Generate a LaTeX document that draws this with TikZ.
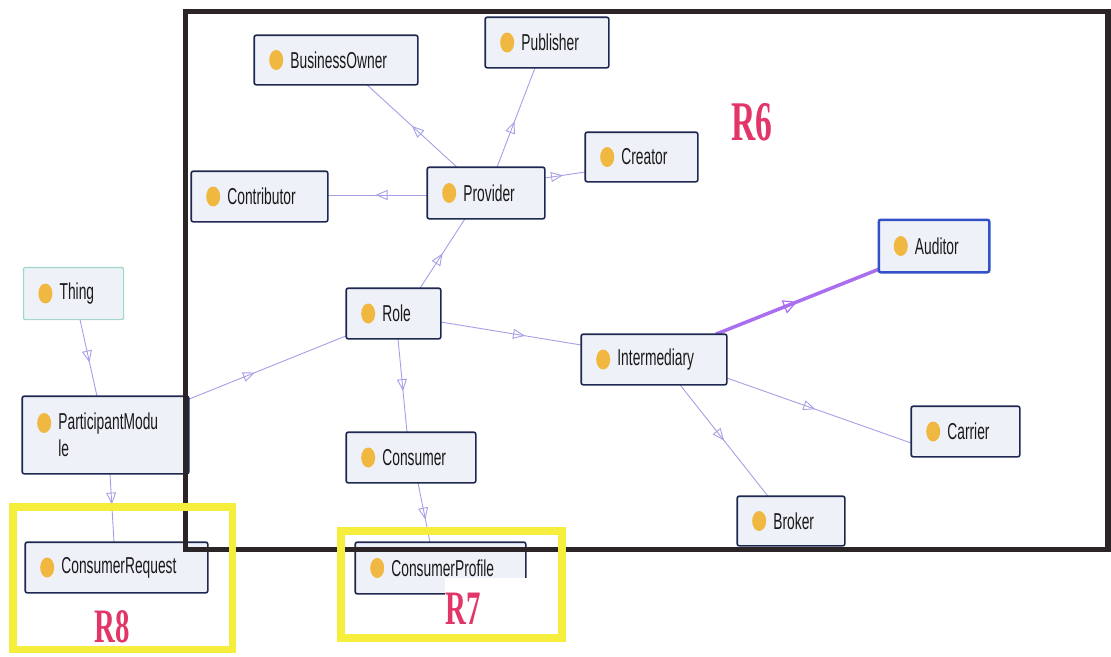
\documentclass[tikz,border=0pt]{standalone}
\usepackage{fontspec}
\usetikzlibrary{arrows.meta,decorations.markings,calc}
\newfontfamily\clsfont{Liberation Sans}[FakeStretch=0.6]
\newfontfamily\regfont{Liberation Serif}[FakeStretch=0.6]

\definecolor{boxfill}{RGB}{238,241,247}
\definecolor{boxline}{RGB}{30,40,80}
\definecolor{edgec}{RGB}{165,160,230}
\definecolor{dotc}{RGB}{240,184,64}
\definecolor{frame}{RGB}{43,37,39}
\definecolor{hilite}{RGB}{245,238,60}
\definecolor{regred}{RGB}{226,54,104}
\definecolor{audline}{RGB}{50,80,200}
\definecolor{audedge}{RGB}{170,110,240}
\definecolor{thingline}{RGB}{160,215,200}

\tikzset{
  cls/.style={draw=boxline, line width=1.6pt, fill=boxfill, rounded corners=2pt,
              inner sep=0pt, minimum width=#1},
  clsh/.style={minimum height=#1},
  lbl/.style={anchor=west, inner sep=0pt, text=black!90,
              font=\clsfont\fontsize{23}{27}\selectfont},
  sub/.style={draw=edgec, line width=0.9pt, postaction=decorate,
              decoration={markings, mark=at position #1 with
                {\arrow{Triangle[open, length=12pt, width=10pt]}}}},
  subbold/.style={draw=audedge, line width=3.5pt, postaction=decorate,
              decoration={markings, mark=at position #1 with
                {\arrow[line width=1.2pt]{Triangle[open, length=14pt, width=14pt]}}}},
  reg/.style={text=regred, inner sep=0pt, font=\regfont\bfseries\fontsize{#1}{#1}\selectfont},
  hlbox/.style={draw=hilite, line width=7.5pt},
}

\begin{document}
\begin{tikzpicture}[x=1pt, y=-1pt]
\useasboundingbox (0,0) rectangle (1111,656);

% class boxes
\node[cls=162, clsh=48] (bo)    at (336,60)     {};
\node[cls=122, clsh=49] (pub)   at (547,42.5)   {};
\node[cls=111, clsh=48] (cre)   at (641.5,157)  {};
\node[cls=135, clsh=49] (con)   at (259.5,196.5){};
\node[cls=116, clsh=50] (prov)  at (486,193)    {};
\node[cls=99,  clsh=51, draw=thingline, line width=1.2pt] (thing) at (73.5,293.5) {};
\node[cls=165, clsh=76] (pm)    at (105.5,435)  {};
\node[cls=181, clsh=49] (cr)    at (116.5,567.5){};
\node[cls=93,  clsh=49] (role)  at (393.5,313.5){};
\node[cls=144, clsh=49] (inter) at (654,359.5)  {};
\node[cls=128, clsh=49] (cons)  at (411,457.5)  {};
\node[cls=169, clsh=50] (cp)    at (440.5,568)  {};
\node[cls=108, clsh=50, draw=audline, line width=2.5pt] (aud) at (934,246) {};
\node[cls=107, clsh=49] (car)   at (965.5,431.5){};
\node[cls=106, clsh=48] (bro)   at (791,521)    {};

% subclass connectors
\draw[sub=0.5]  ([xshift=-29pt]prov.north) -- ([xshift=31pt]bo.south);
\draw[sub=0.46] ([xshift=11pt]prov.north) -- ([xshift=-12pt]pub.south);
\draw[sub=0.45] ([yshift=15pt]prov.east) -- ([yshift=-15pt]cre.west);
\draw[sub=0.52] ([yshift=-2pt]prov.west) -- ([yshift=-2pt]prov.west -| con.east);
\draw[sub=0.5]  ([xshift=26.5pt]role.north) -- ([xshift=-21pt]prov.south);
\draw[sub=0.42] ([yshift=-3pt]pm.north east) -- ([yshift=3pt]role.south west);
\draw[sub=0.56] ([xshift=6.5pt]thing.south) -- ([xshift=-8.5pt]pm.north);
\draw[sub=0.45] ([xshift=4.5pt]pm.south) -- ([xshift=-2.5pt]cr.north);
\draw[sub=0.56] ([xshift=4.5pt]role.south) -- ([xshift=-4pt]cons.north);
\draw[sub=0.62] ([xshift=7pt]cons.south) -- ([xshift=-10.5pt]cp.north);
\draw[sub=0.6]  ([yshift=-8.5pt]role.east) -- ([yshift=14.5pt]inter.west);
\draw[subbold=0.5] ([xshift=-11pt]inter.north east) -- ([yshift=3pt]aud.south west);
\draw[sub=0.48] ([yshift=-18.5pt]inter.east) -- ([yshift=-11.5pt]car.west);
\draw[sub=0.5]  ([xshift=26pt]inter.south) -- ([xshift=-23pt]bro.north);

% redraw boxes over the connector ends
\foreach \n in {bo,pub,cre,con,prov,pm,cr,role,inter,cons,cp,car,bro}{
  \path[fill=boxfill, draw=boxline, line width=1.6pt, rounded corners=2pt]
    (\n.north west) rectangle (\n.south east);
}
\path[fill=boxfill, draw=thingline, line width=1.2pt, rounded corners=2pt]
  (thing.north west) rectangle (thing.south east);
\path[fill=boxfill, draw=audline, line width=2.5pt, rounded corners=2pt]
  (aud.north west) rectangle (aud.south east);

% class markers
\foreach \n in {bo,pub,cre,con,prov,thing,cr,role,inter,cons,cp,aud,car,bro}{
  \fill[dotc] ([xshift=22pt]\n.west) ellipse (7pt and 10pt);
}
\fill[dotc] ([xshift=22pt,yshift=12pt]pm.west) ellipse (7pt and 10pt);

% class names
\node[lbl] (bo-t)    at ([xshift=36pt]bo.west)    {BusinessOwner};
\node[lbl] (pub-t)   at ([xshift=36pt]pub.west)   {Publisher};
\node[lbl] (cre-t)   at ([xshift=36pt]cre.west)   {Creator};
\node[lbl] (con-t)   at ([xshift=36pt]con.west)   {Contributor};
\node[lbl] (prov-t)  at ([xshift=36pt]prov.west)  {Provider};
\node[lbl] (thing-t) at ([xshift=36pt]thing.west) {Thing};
\node[lbl, align=left] (pm-t) at ([xshift=36pt]pm.west) {ParticipantModu\\le};
\node[lbl] (cr-t)    at ([xshift=36pt]cr.west)    {ConsumerRequest};
\node[lbl] (role-t)  at ([xshift=36pt]role.west)  {Role};
\node[lbl] (inter-t) at ([xshift=36pt]inter.west) {Intermediary};
\node[lbl] (cons-t)  at ([xshift=36pt]cons.west)  {Consumer};
\node[lbl] (cp-t)    at ([xshift=36pt]cp.west)    {ConsumerProfile};
\node[lbl] (aud-t)   at ([xshift=36pt]aud.west)   {Auditor};
\node[lbl] (car-t)   at ([xshift=36pt]car.west)   {Carrier};
\node[lbl] (bro-t)   at ([xshift=36pt]bro.west)   {Broker};

% region R6 frame
\draw[frame, line width=5.5pt] (185.5,11.5) rectangle (1108,549.5);

% cleared area under the R7 label
\fill[white] (445,578) rectangle (560,633);

% highlighted regions R7 and R8
\draw[hlbox] (12.75,506.75) rectangle (232.25,649.25);
\draw[hlbox] (341,531) rectangle (562,638);

% region labels
\node[reg=56] (r6) at (752,122) {R6};
\node[reg=48] (r7) at (463,609) {R7};
\node[reg=48] (r8) at (112,627) {R8};
\end{tikzpicture}
\end{document}
